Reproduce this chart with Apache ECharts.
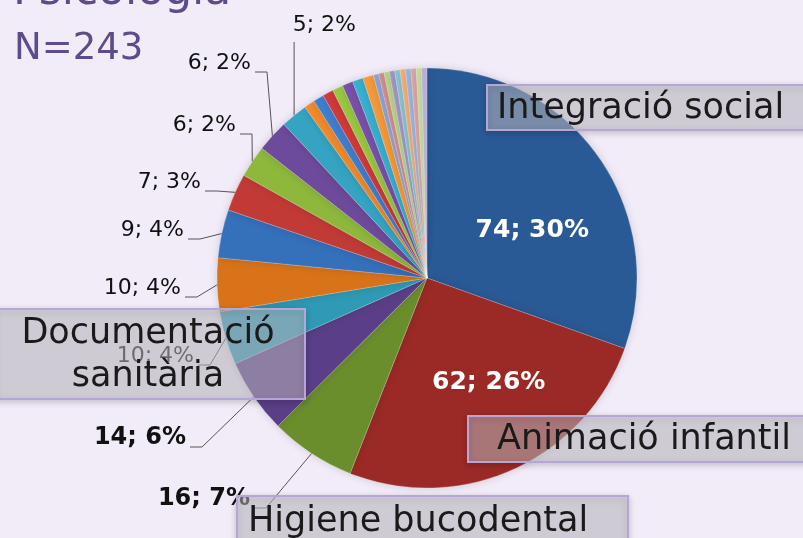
<!DOCTYPE html>
<html>
<head>
<meta charset="utf-8">
<script src="https://cdn.jsdelivr.net/npm/echarts@6/dist/echarts.min.js"></script>
<style>
  html, body { margin: 0; padding: 0; background: #f1ecf8; }
  #chart { width: 803px; height: 538px; }
</style>
</head>
<body>
<div id="chart"></div>
<script>
// categories clockwise from 12 o'clock
const categories = [
  'Integració social', 'Animació infantil', 'Higiene bucodental', 'Documentació sanitària',
  'Cicle 5', 'Cicle 6', 'Cicle 7', 'Cicle 8', 'Cicle 9', 'Cicle 10', 'Cicle 11',
  'Cicle 12', 'Cicle 13', 'Cicle 14', 'Cicle 15', 'Cicle 16', 'Cicle 17', 'Cicle 18',
  'Cicle 19', 'Cicle 20', 'Cicle 21', 'Cicle 22', 'Cicle 23', 'Cicle 24', 'Cicle 25',
  'Cicle 26', 'Cicle 27', 'Cicle 28'
]
const values = [74, 62, 16, 14, 10, 10, 9, 7, 6, 6, 5, 2, 2, 2, 2, 2, 2, 2, 1, 1, 1, 1, 1, 1, 1, 1, 1, 1]
const sliceColors = [
  '#2a5a96', '#9b2a26', '#6b8e2c', '#5a3f88', '#2e9ab5', '#d9731a', '#3570ba', '#c23a36',
  '#8db83c', '#6e4a9c', '#35a4c2', '#f08a2a', '#3f7fd0', '#d03a3a', '#98c840', '#7a50a8',
  '#38b0d0', '#f59a3a', '#8fa8d8', '#d89090', '#b8d888', '#a898c8', '#88c8d8', '#f8b078',
  '#a0b8e0', '#e0a8a8', '#c8e0a0', '#b8b0d8'
]
const titleText = ['Psicologia', 'N=243']

const total = values.reduce((a, b) => a + b, 0)
const FONT = '"DejaVu Sans", sans-serif'

// where each outside label sits: [right edge x, centre y]
const labelSpots = {
  2: [250, 499],
  3: [186, 438],
  4: [194, 356],
  5: [181, 288],
  6: [184, 230],
  7: [201, 182],
  8: [236, 125],
  9: [251, 63],
  10: [356, 25]
}

const chart = echarts.init(document.getElementById('chart'))

const seriesData = values.map((v, i) => {
  const item = {
    name: categories[i],
    value: v,
    itemStyle: { color: sliceColors[i] }
  }
  if (i < 2) {
    item.label = {
      show: true,
      position: 'inside',
      color: '#fff',
      fontWeight: 'bold',
      fontSize: 25
    }
    item.labelLine = { show: false }
  } else if (labelSpots[i]) {
    item.label = {
      show: true,
      position: 'outside',
      color: '#111',
      fontWeight: i < 4 ? 'bold' : 'normal',
      fontSize: i < 4 ? 24 : 22
    }
    item.labelLine = { show: true }
  } else {
    item.label = { show: false }
    item.labelLine = { show: false }
  }
  return item
})

const box = (x, y, w, h, lines, tx, align) => ({
  type: 'group',
  children: [
    {
      type: 'rect',
      z: 100,
      shape: { x, y, width: w, height: h },
      style: {
        fill: 'rgba(203,200,208,0.5)',
        stroke: '#b6a6d6',
        lineWidth: 2,
        shadowBlur: 6,
        shadowOffsetY: 2,
        shadowColor: 'rgba(0,0,0,0.25)'
      }
    },
    {
      type: 'text',
      z: 101,
      style: {
        x: tx,
        y: y + h / 2 + 1,
        text: lines,
        fill: '#1a1a1a',
        font: '35px ' + FONT,
        lineHeight: 43,
        align: align,
        verticalAlign: 'middle'
      }
    }
  ]
})

const option = {
  backgroundColor: '#f1ecf8',
  animation: false,
  graphic: [
    {
      type: 'text',
      z: 100,
      style: {
        x: 13,
        y: 15,
        text: titleText[0],
        fill: '#5f4a8b',
        font: '44px ' + FONT,
        verticalAlign: 'bottom'
      }
    },
    {
      type: 'text',
      z: 100,
      style: {
        x: 14,
        y: 49,
        text: titleText[1],
        fill: '#5f4a8b',
        font: '37px ' + FONT,
        verticalAlign: 'middle'
      }
    },
    box(487, 85, 330, 45, categories[0], 497, 'left'),
    box(468, 416, 350, 46, categories[1], 497, 'left'),
    box(237, 496, 391, 50, categories[2], 248, 'left'),
    box(-5, 309, 310, 90, 'Documentació\nsanitària', 148, 'center')
  ],
  series: [
    {
      type: 'pie',
      center: [427, 278],
      radius: 210,
      startAngle: 90,
      clockwise: true,
      silent: true,
      data: seriesData,
      itemStyle: {
        borderColor: 'rgba(255,255,255,0.35)',
        borderWidth: 0.6,
        shadowBlur: 8,
        shadowColor: 'rgba(0,0,0,0.15)'
      },
      label: {
        fontFamily: FONT,
        formatter: p => p.value + '; ' + Math.round(p.value / total * 100) + '%'
      },
      labelLine: {
        length: 10,
        length2: 10,
        lineStyle: { color: '#555', width: 1 }
      },
      labelLayout: params => {
        const i = params.dataIndex
        if (i === 0) return { dx: 17, dy: 15 }
        if (i === 1) return { dx: 17, dy: 6 }
        const s = labelSpots[i]
        if (!s) return {}
        const pts = params.labelLinePoints
        const lineY = s[1] + 9
        return {
          x: s[0],
          y: s[1],
          align: 'right',
          verticalAlign: 'middle',
          labelLinePoints: i === 10
            ? [pts[0], [pts[0][0], s[1] + 17]]
            : [pts[0], [s[0] + 16, lineY], [s[0] + 4, lineY]]
        }
      }
    }
  ]
}

chart.setOption(option)
</script>
</body>
</html>
